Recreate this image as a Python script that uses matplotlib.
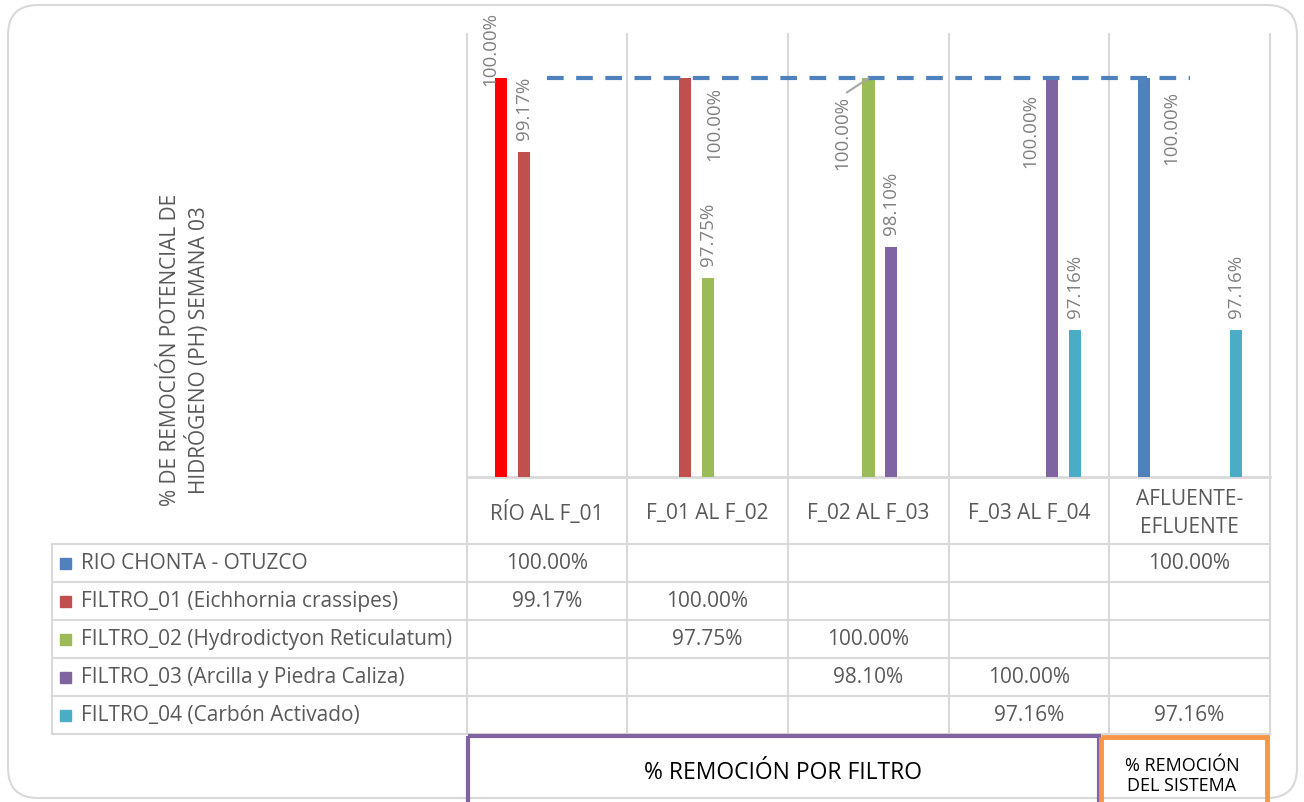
import numpy as np
import matplotlib.pyplot as plt
from matplotlib.patches import FancyBboxPatch, Rectangle

plt.rcParams['font.family'] = ['Open Sans', 'DejaVu Sans']

# datos
categorias = ['RÍO AL F_01', 'F_01 AL F_02', 'F_02 AL F_03', 'F_03 AL F_04', 'AFLUENTE-\nEFLUENTE']
series = ['RIO CHONTA - OTUZCO', 'FILTRO_01 (Eichhornia crassipes)',
          'FILTRO_02 (Hydrodictyon Reticulatum)', 'FILTRO_03 (Arcilla y Piedra Caliza)',
          'FILTRO_04 (Carbón Activado)']
nan = np.nan
rio_chonta = [100.00, nan, nan, nan, 100.00]
filtro_01 = [99.17, 100.00, nan, nan, nan]
filtro_02 = [nan, 97.75, 100.00, nan, nan]
filtro_03 = [nan, nan, 98.10, 100.00, nan]
filtro_04 = [nan, nan, nan, 97.16, 97.16]
referencia = [100, 100, 100, 100, 100]
valores = [rio_chonta, filtro_01, filtro_02, filtro_03, filtro_04]

colores = ['#4F81BD', '#C0504D', '#9BBB59', '#8064A2', '#4BACC6']
gris_txt = '#595959'
gris_lin = '#D9D9D9'

W, H = 1304, 803
x_cols = [467, 627, 788, 949, 1109, 1270]
y_top, y_eje = 35, 478
y_filas = [545, 583, 621, 659, 697, 735]
x_tabla = 52

fig = plt.figure(figsize=(W / 100, H / 100), dpi=100)

# capa de fondo en pixeles: marco, tabla, cajas
bg = fig.add_axes([0, 0, 1, 1])
bg.set_xlim(0, W)
bg.set_ylim(H, 0)
bg.axis('off')

bg.add_patch(FancyBboxPatch((8, 6), 1289, 793, boxstyle='round,pad=0,rounding_size=30',
                            fc='white', ec='#D9D9D9', lw=1.5))

for x in x_cols:
    bg.plot([x, x], [y_top, y_filas[-1]], color=gris_lin, lw=1.5, zorder=1)
bg.plot([x_tabla, x_tabla], [y_filas[0], y_filas[-1]], color=gris_lin, lw=1.5)
bg.plot([x_cols[0], x_cols[-1]], [y_eje, y_eje], color=gris_lin, lw=2)
for y in y_filas:
    bg.plot([x_tabla, x_cols[-1]], [y, y], color=gris_lin, lw=1.5)

# etiquetas de categoria
for j, cat in enumerate(categorias):
    xc = (x_cols[j] + x_cols[j + 1]) / 2
    bg.text(xc, (y_eje + y_filas[0]) / 2 + 2, cat, ha='center', va='center',
            fontsize=15, color=gris_txt, linespacing=1.4)

# filas de la tabla
for i, (nombre, vals) in enumerate(zip(series, valores)):
    yc = (y_filas[i] + y_filas[i + 1]) / 2
    bg.add_patch(Rectangle((60, yc - 5.5), 11, 11, color=colores[i]))
    bg.text(81, yc, nombre, ha='left', va='center', fontsize=15, color=gris_txt)
    for j, v in enumerate(vals):
        if not np.isnan(v):
            xc = (x_cols[j] + x_cols[j + 1]) / 2
            bg.text(xc, yc, f'{v:.2f}%', ha='center', va='center', fontsize=15, color=gris_txt)

# titulo del eje y
bg.text(185, 350, '% DE REMOCIÓN POTENCIAL DE\nHIDRÓGENO (PH) SEMANA 03', rotation=90,
        ha='center', va='center', fontsize=15, color=gris_txt, linespacing=1.3,
        multialignment='center')

# cajas inferiores
bg.add_patch(Rectangle((468, 737), 1099 - 468, 80, fill=False, ec='#8064A2', lw=3, zorder=5))
bg.text(783, 773, '% REMOCIÓN POR FILTRO', ha='center', va='center', fontsize=16.5, color='black')
bg.add_patch(Rectangle((1101, 738), 1267 - 1101, 80, fill=False, ec='#F79646', lw=3.5, zorder=5))
bg.text(1182, 776, '% REMOCIÓN\nDEL SISTEMA', ha='center', va='center', fontsize=13,
        color='black', linespacing=1.2)

# grafico de barras
ax = fig.add_axes([x_cols[0] / W, 1 - y_eje / H, (x_cols[-1] - x_cols[0]) / W, (y_eje - y_top) / H])
ax.patch.set_alpha(0)
ax.set_xlim(-0.5, 4.5)
ax.set_ylim(95.5, 100.5)
for s in ax.spines.values():
    s.set_visible(False)
ax.set_xticks([])
ax.set_yticks([])

x = np.arange(len(categorias))
paso = 1 / 7
ancho = 0.075
barras = []
for i, vals in enumerate(valores):
    b = ax.bar(x + (i - 2) * paso, vals, width=ancho, color=colores[i], zorder=2)
    barras.append(b)
barras[0][0].set_facecolor('#FF0000')

ax.plot(x, referencia, color='#4F81BD', lw=3, dashes=(4, 3), zorder=3)

# etiquetas de datos (algunas desplazadas a mano como en el original)
mov = {(0, 0): (-11, -7, 'bottom'), (1, 1): (29, -8, 'top'), (2, 2): (-26, -17, 'top'),
       (3, 3): (-22, -15, 'top'), (0, 4): (27, -12, 'top')}
for i, vals in enumerate(valores):
    for j, v in enumerate(vals):
        if np.isnan(v):
            continue
        dx, dy, va = mov.get((i, j), (0, 13, 'bottom'))
        kw = {}
        if (i, j) == (2, 2):
            kw['arrowprops'] = dict(arrowstyle='-', color='#A6A6A6', lw=1.5,
                                    shrinkA=0, shrinkB=0, relpos=(0.5, 1))
        ax.annotate(f'{v:.2f}%', xy=(j + (i - 2) * paso, v), xytext=(dx, dy),
                    textcoords='offset pixels', rotation=90, ha='center', va=va,
                    fontsize=13.5, color='#808080', annotation_clip=False, zorder=4, **kw)

fig.savefig('out.png', dpi=100)
